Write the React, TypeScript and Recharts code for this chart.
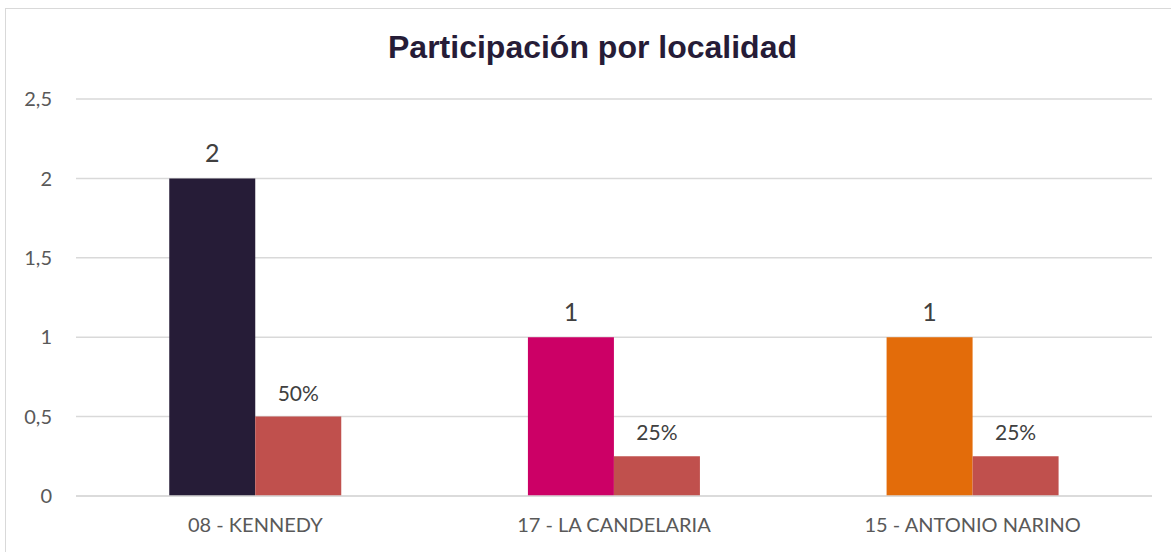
import React from "react";
import { BarChart, Bar, XAxis, YAxis, CartesianGrid, LabelList, Cell } from "recharts";

const categories = ["08 - KENNEDY", "17 - LA CANDELARIA", "15 - ANTONIO NARINO"];
const counts = [2, 1, 1];
const shares = [0.5, 0.25, 0.25];
const countColors = ["#261C37", "#CC0066", "#E36C0A"];
const shareColor = "#C0504D";
const yTicks = [0, 0.5, 1, 1.5, 2, 2.5];

const data = categories.map((name, i) => ({ name, count: counts[i], share: shares[i] }));

const FONT = "Lato, 'Open Sans', sans-serif";

export default function App() {
  return (
    <div style={{ position: "absolute", left: 0, top: 0, width: 1171, height: 552, background: "#fff", overflow: "hidden", fontFamily: FONT }}>
      <div style={{ position: "absolute", left: 5, top: 8, width: 1200, height: 600, border: "1px solid #D9D9D9", boxSizing: "border-box" }} />
      <div style={{ position: "absolute", left: 0, top: 28, width: 1185, textAlign: "center", fontFamily: "'Liberation Sans', Arial, sans-serif", fontWeight: 700, fontSize: 32, color: "#261C37", lineHeight: "38px" }}>
        Participación por localidad
      </div>
      <div style={{ position: "absolute", left: 0, top: 0 }}>
        <BarChart width={1171} height={552} data={data} margin={{ top: 99, right: 19, left: 16, bottom: 26 }} barCategoryGap="26%" barGap={0}>
          <CartesianGrid vertical={false} stroke="#D9D9D9" strokeWidth={1.5} />
          <XAxis dataKey="name" axisLine={{ stroke: "#D9D9D9", strokeWidth: 1.5 }} tickLine={false} tickMargin={16} height={30}
            tick={{ fill: "#595959", fontSize: 20, fontFamily: FONT }} />
          <YAxis domain={[0, 2.5]} ticks={yTicks} axisLine={false} tickLine={false} width={60} tickMargin={18}
            tickFormatter={(v: number) => String(v).replace(".", ",")}
            tick={{ fill: "#595959", fontSize: 20, fontFamily: FONT }} />
          <Bar dataKey="count" isAnimationActive={false}>
            {data.map((d, i) => (<Cell key={d.name} fill={countColors[i]} />))}
            <LabelList dataKey="count" position="top" offset={16} fill="#404040" fontSize={25} fontFamily={FONT} />
          </Bar>
          <Bar dataKey="share" fill={shareColor} isAnimationActive={false}>
            <LabelList dataKey="share" position="top" offset={16} fill="#404040" fontSize={21} fontFamily={FONT}
              formatter={(v: number) => `${Math.round(v * 100)}%`} />
          </Bar>
        </BarChart>
      </div>
    </div>
  );
}
